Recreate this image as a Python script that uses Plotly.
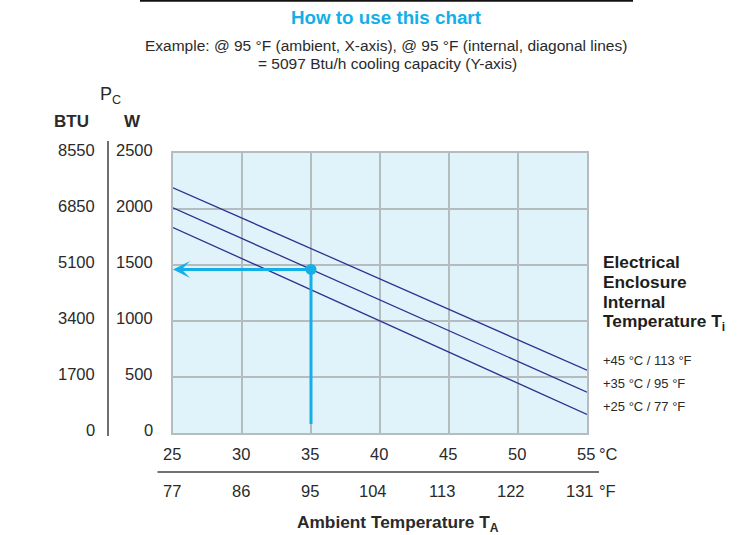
import plotly.graph_objects as go

# ---- data ----
temps_c = [25, 30, 35, 40, 45, 50, 55]
temps_f = [77, 86, 95, 104, 113, 122, 131]
w_ticks = [0, 500, 1000, 1500, 2000, 2500]
btu_ticks = [0, 1700, 3400, 5100, 6850, 8550]

line_x = [25, 55]
internal_45 = [2190, 560]
internal_35 = [2010, 365]
internal_25 = [1835, 165]
series_labels = ["+45 °C / 113 °F", "+35 °C / 95 °F", "+25 °C / 77 °F"]

example_x = 35
example_y = 1460
example_bottom = 80

# ---- layout constants ----
W, H = 751, 535
L, R, T, B = 173, 587, 153, 433
PW, PH = R - L, B - T


def px(x):
    return (x - L) / PW


def py(y):
    return (B - y) / PH


NAVY = "#2e3192"
CYAN = "#12afe8"
GRID = "#b4bcc0"
TXT = "#2a2a2a"
FONT = "Liberation Sans, Arial, sans-serif"


def txt(x, y, text, size, xref="paper", yref="paper", xanchor="center",
        color=TXT, xshift=0, yshift=0):
    return dict(x=x, y=y, xref=xref, yref=yref, text=text, showarrow=False,
                xanchor=xanchor, yanchor="middle", xshift=xshift, yshift=yshift,
                font=dict(size=size, color=color, family=FONT))


fig = go.Figure()

for ys, name in zip([internal_45, internal_35, internal_25], series_labels):
    fig.add_trace(go.Scatter(x=line_x, y=ys, mode="lines", name=name,
                             line=dict(color=NAVY, width=1.3), hoverinfo="skip"))

# vertical example line
fig.add_trace(go.Scatter(x=[example_x, example_x], y=[example_y, example_bottom],
                         mode="lines", line=dict(color=CYAN, width=3), hoverinfo="skip"))
# point
fig.add_trace(go.Scatter(x=[example_x], y=[example_y], mode="markers",
                         marker=dict(color=CYAN, size=11), hoverinfo="skip"))

ann = []
# horizontal example arrow
ann.append(dict(x=temps_c[0], y=example_y, ax=example_x, ay=example_y,
                xref="x", yref="y", axref="x", ayref="y", text="",
                showarrow=True, arrowhead=3, arrowsize=0.95, arrowwidth=3,
                arrowcolor=CYAN, standoff=0))

# separator rule between the °C and °F rows
ann.append(dict(x=px(599), y=py(472), xref="paper", yref="paper", text="",
                ax=-(599 - 156), ay=0, showarrow=True, arrowhead=0,
                arrowwidth=1.5, arrowcolor="#444", standoff=0))

# y tick labels (two columns)
for w, b in zip(w_ticks, btu_ticks):
    ann.append(txt(px(155), w, str(w), 16.5, yref="y", xanchor="right", yshift=3))
    ann.append(txt(px(97), w, str(b), 16.5, yref="y", xanchor="right", yshift=3))

# headers
ann.append(txt(px(110), py(95), "P<sub>C</sub>", 18))
ann.append(txt(px(71), py(122), "<b>BTU</b>", 17))
ann.append(txt(px(132), py(122), "<b>W</b>", 17))

# x tick labels
for c, f in zip(temps_c, temps_f):
    ann.append(txt(c, py(454), str(c), 16.5, xref="x", xshift=-1))
    ann.append(txt(c, py(491), str(f), 16.5, xref="x",
                   xshift=-7 if len(str(f)) > 2 else -1))
ann.append(txt(px(597), py(454), "°C", 16.5, xanchor="left"))
ann.append(txt(px(597), py(491), "°F", 16.5, xanchor="left"))

ann.append(txt(px(398), py(523), "<b>Ambient Temperature T<sub>A</sub></b>", 17.3))

# right side label
for i, t in enumerate(["Electrical", "Enclosure", "Internal", "Temperature T<sub>i</sub>"]):
    ann.append(txt(px(601), py(262 + i * 20), "<b>" + t + "</b>", 17.3, xanchor="left",
                   color="#1e1e1e"))
for i, t in enumerate(series_labels):
    ann.append(txt(px(601), py(360 + i * 23), t, 13, xanchor="left"))

# title and subtitle
ann.append(txt(px(386), py(18), "<b>How to use this chart</b>", 18.8, color=CYAN))
ann.append(txt(px(386), py(45),
               "Example: @ 95 °F (ambient, X-axis), @ 95 °F (internal, diagonal lines)", 15.5))
ann.append(txt(px(387), py(63), "= 5097 Btu/h cooling capacity (Y-axis)", 15.5))

shapes = [
    dict(type="line", xref="paper", yref="paper", x0=px(108), x1=px(108),
         y0=py(141), y1=py(436), line=dict(color="#222", width=1.3)),
    dict(type="line", xref="paper", yref="paper", x0=px(140), x1=px(633),
         y0=py(0.5), y1=py(0.5), line=dict(color="#111", width=2.5)),
]

fig.update_layout(
    width=W, height=H,
    margin=dict(l=L, r=W - R, t=T, b=H - B),
    paper_bgcolor="white", plot_bgcolor="#e0f2fa",
    showlegend=False,
    annotations=ann, shapes=shapes,
    xaxis=dict(range=[25, 55], tickvals=temps_c, showticklabels=False, ticks="",
               showgrid=True, gridcolor=GRID, gridwidth=1.5, zeroline=False,
               showline=True, linecolor=GRID, linewidth=1.5, mirror=True, fixedrange=True),
    yaxis=dict(range=[0, 2500], tickvals=w_ticks, showticklabels=False, ticks="",
               showgrid=True, gridcolor=GRID, gridwidth=1.5, zeroline=False,
               showline=True, linecolor=GRID, linewidth=1.5, mirror=True, fixedrange=True),
)

fig.write_html("out.html", config={"displayModeBar": False},
               post_script="document.body.style.margin='0px';")
